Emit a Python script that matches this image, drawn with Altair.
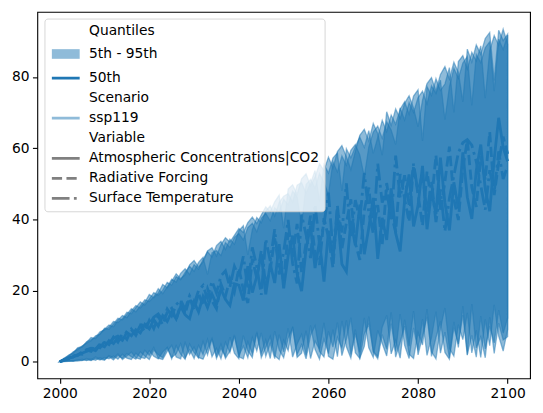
import altair as alt
import pandas as pd

years = list(range(2000, 2101))

variables = ["Atmospheric Concentrations|CO2", "Radiative Forcing", "Surface Temperature"]

atmos_p5 = [0.0, 0.05, 0.1, 0.3, 0.2, 0.4, 0.6, 0.3, 0.9, 0.5,
            1.2, 0.8, 1.6, 0.7, 2.1, 1.0, 0.6, 2.4, 1.3, 0.9,
            3.1, 1.5, 0.8, 2.7, 4.0, 1.2, 2.2, 5.1, 1.0, 3.4,
            0.9, 4.6, 2.0, 6.3, 1.4, 3.8, 0.8, 5.5, 2.6, 7.2,
            1.7, 4.4, 1.1, 6.8, 3.0, 8.1, 1.5, 5.2, 0.9, 7.6,
            2.8, 9.4, 1.3, 4.9, 7.7, 1.8, 10.2, 3.5, 0.7, 6.4,
            2.3, 9.0, 1.4, 11.5, 4.2, 1.0, 7.9, 2.6, 12.3, 3.9,
            1.2, 8.8, 5.1, 1.6, 10.7, 2.9, 13.4, 4.6, 0.9, 9.5,
            3.2, 12.0, 1.8, 6.7, 14.1, 2.4, 8.3, 1.1, 11.2, 4.0,
            15.6, 2.0, 7.4, 1.3, 12.8, 3.6, 9.9, 5.3, 14.5, 8.0,
            12.2]
atmos_p50 = [0.0, 0.4, 1.1, 1.3, 2.0, 2.4, 2.9, 3.6, 3.1, 4.7,
             4.2, 5.9, 5.1, 6.8, 6.0, 8.2, 7.3, 9.0, 8.1, 10.5,
             9.2, 11.8, 10.0, 12.9, 11.3, 14.1, 12.0, 15.5, 13.2, 12.1,
             16.8, 14.0, 18.3, 15.2, 19.0, 16.1, 20.4, 17.5, 15.8, 21.9,
             21.5, 17.2, 26.8, 19.4, 24.0, 30.2, 18.9, 27.5, 22.1, 33.0,
             20.6, 29.8, 35.4, 24.7, 19.8, 31.6, 38.2, 26.3, 33.9, 22.5,
             36.8, 29.0, 41.2, 27.4, 25.3, 39.5, 32.7, 44.1, 30.2, 37.6,
             46.0, 28.9, 40.4, 34.2, 48.7, 36.1, 31.0, 45.3, 52.6, 38.0,
             43.9, 55.0, 37.2, 47.8, 41.5, 57.3, 44.6, 36.9, 50.4, 43.0,
             58.8, 46.2, 40.1, 53.7, 61.0, 48.5, 42.3, 56.9, 68.5, 60.2,
             56.3]
atmos_p95 = [0.0, 0.8, 1.9, 2.5, 3.7, 4.1, 5.6, 6.2, 6.8, 8.4,
             8.9, 9.7, 11.3, 11.0, 12.1, 13.9, 13.5, 15.2, 16.8, 15.9,
             17.6, 19.4, 18.7, 20.1, 22.3, 21.5, 23.9, 23.0, 25.1, 26.8,
             25.4, 27.9, 29.3, 24.5, 30.6, 31.2, 29.8, 33.5, 32.1, 34.9,
             36.0, 34.2, 37.7, 38.9, 36.5, 40.3, 41.7, 39.6, 43.2, 42.0,
             45.6, 44.1, 47.9, 46.3, 38.0, 49.8, 51.2, 48.7, 52.9, 50.4,
             47.0, 56.1, 53.3, 57.8, 55.2, 59.4, 61.0, 58.1, 52.0, 60.3,
             64.5, 66.2, 62.8, 67.4, 65.1, 61.0, 71.3, 67.9, 72.8, 70.0,
             74.2, 76.0, 72.4, 77.5, 75.3, 79.1, 68.0, 77.2, 82.4, 79.6,
             83.9, 85.7, 72.0, 86.3, 84.0, 88.2, 89.9, 76.0, 90.6, 87.7,
             91.8]

rf_p5 = [0.0, 0.1, 0.2, 0.1, 0.4, 0.7, 0.3, 0.8, 0.4, 1.1,
         0.6, 1.4, 0.5, 1.8, 0.9, 2.3, 1.4, 0.7, 2.8, 1.6,
         0.6, 3.3, 2.0, 1.1, 3.9, 0.8, 4.5, 2.1, 0.7, 5.0,
         2.6, 1.0, 5.7, 1.9, 6.4, 0.9, 3.7, 1.5, 6.9, 2.4,
         0.8, 7.3, 3.1, 1.2, 8.0, 2.2, 6.1, 0.9, 8.6, 3.3,
         1.1, 6.6, 9.5, 2.0, 4.8, 0.8, 7.4, 10.1, 2.9, 1.3,
         8.5, 4.1, 11.0, 1.7, 6.3, 12.4, 2.5, 0.9, 7.8, 10.6,
         3.0, 1.4, 9.7, 13.0, 2.2, 6.0, 1.0, 11.8, 4.4, 14.2,
         1.9, 7.1, 12.6, 2.8, 0.8, 9.3, 15.1, 3.7, 1.6, 10.4,
         6.2, 13.7, 2.5, 8.8, 1.2, 11.9, 4.5, 16.0, 7.2, 3.0,
         9.1]
rf_p50 = [0.0, 0.5, 0.8, 1.6, 1.7, 2.8, 3.3, 2.9, 4.5, 3.9,
          5.6, 4.8, 6.9, 5.5, 7.8, 6.3, 9.1, 7.4, 10.2, 8.5,
          11.6, 9.3, 12.7, 10.4, 13.9, 15.0, 11.8, 16.2, 13.5, 17.9,
          14.6, 19.2, 15.7, 20.5, 17.1, 14.9, 21.8, 18.4, 23.2, 19.6,
          26.3, 20.1, 16.5, 28.9, 23.4, 31.2, 21.7, 25.8, 34.6, 27.0,
          22.8, 36.1, 29.5, 38.7, 25.1, 33.4, 41.0, 30.6, 27.2, 40.3,
          34.9, 26.4, 43.8, 31.7, 39.0, 45.6, 33.3, 28.6, 42.5, 48.9,
          37.1, 44.0, 32.8, 50.2, 41.6, 36.4, 52.7, 45.8, 39.3, 55.1,
          47.0, 38.2, 53.4, 44.9, 58.0, 42.1, 50.6, 60.4, 45.7, 39.8,
          54.2, 62.3, 49.0, 43.5, 57.7, 51.1, 64.5, 46.8, 55.9, 63.2,
          58.4]
rf_p95 = [0.0, 0.9, 1.5, 2.8, 3.3, 4.4, 5.2, 5.9, 7.3, 7.7,
          9.4, 9.1, 10.6, 12.2, 11.8, 13.3, 14.9, 14.0, 15.7, 17.4,
          16.9, 18.2, 20.5, 19.1, 21.0, 23.2, 22.4, 24.8, 26.1, 24.5,
          27.3, 26.0, 28.7, 30.9, 29.4, 32.6, 33.8, 31.5, 34.4, 33.0,
          36.8, 38.2, 30.0, 37.1, 40.5, 39.0, 42.3, 43.8, 40.9, 44.7,
          46.5, 47.2, 44.8, 49.6, 50.3, 47.4, 50.1, 53.7, 45.0, 55.4,
          53.0, 57.2, 58.6, 48.0, 59.8, 57.3, 60.4, 63.1, 60.2, 64.9,
          58.5, 63.0, 67.8, 64.6, 69.3, 66.7, 70.9, 73.0, 69.5, 74.6,
          76.4, 62.0, 77.3, 74.8, 79.5, 76.2, 78.0, 82.6, 70.0, 84.3,
          86.0, 82.2, 86.9, 84.5, 88.7, 74.0, 87.4, 91.6, 88.9, 93.4,
          89.2]

temp_p5 = [0.0, 0.08, 0.3, 0.2, 0.6, 0.3, 0.9, 0.5, 1.3, 0.7,
           0.4, 1.7, 1.0, 2.2, 0.6, 1.6, 2.7, 1.1, 0.7, 3.2,
           1.8, 4.0, 1.0, 0.6, 2.9, 4.6, 1.3, 0.8, 5.3, 2.0,
           4.1, 1.2, 0.7, 3.6, 6.5, 1.6, 4.9, 0.9, 3.0, 7.5,
           1.4, 0.8, 5.6, 2.3, 8.4, 1.1, 4.0, 7.1, 1.7, 0.6,
           6.0, 3.1, 9.8, 1.2, 2.4, 8.7, 0.9, 5.8, 3.4, 10.9,
           1.5, 0.7, 6.9, 3.8, 11.6, 2.0, 9.0, 1.0, 4.3, 12.7,
           2.7, 0.8, 7.6, 3.5, 13.9, 1.3, 5.5, 10.0, 2.1, 0.9,
           8.2, 4.7, 14.8, 1.5, 6.8, 11.3, 2.6, 0.7, 9.6, 5.0,
           13.1, 1.8, 16.2, 3.9, 7.0, 1.1, 12.5, 2.3, 10.8, 6.1,
           7.0]
temp_p50 = [0.0, 0.6, 0.9, 1.4, 2.3, 2.1, 3.4, 3.8, 3.5, 5.0,
            5.4, 4.9, 6.6, 7.2, 6.4, 8.5, 9.0, 8.0, 9.9, 11.1,
            10.3, 12.5, 13.4, 11.6, 14.8, 12.9, 16.0, 17.3, 14.7, 18.5,
            16.2, 20.0, 21.4, 17.8, 22.6, 19.3, 24.1, 25.5, 21.0, 26.8,
            23.9, 29.6, 20.4, 32.1, 26.7, 18.8, 34.5, 28.3, 37.2, 24.5,
            30.9, 39.8, 27.6, 22.0, 41.3, 35.7, 29.1, 44.2, 33.0, 38.6,
            47.5, 31.2, 42.9, 36.3, 50.1, 34.7, 45.4, 39.9, 53.0, 41.8,
            36.0, 55.6, 44.7, 48.3, 39.5, 57.9, 46.1, 52.4, 44.1, 55.6,
            47.5, 53.0, 41.8, 50.7, 39.2, 48.4, 36.6, 45.9, 52.3, 58.7,
            61.5, 62.4, 60.8, 56.2, 49.5, 42.7, 53.8, 47.6, 59.1, 51.3,
            55.0]
temp_p95 = [0.0, 1.0, 1.7, 2.4, 3.9, 4.3, 5.4, 6.8, 6.5, 7.9,
            9.1, 10.3, 9.8, 11.7, 13.0, 12.4, 14.3, 15.8, 15.1, 16.6,
            18.9, 18.0, 19.3, 21.7, 20.8, 22.6, 24.7, 23.3, 24.4, 27.2,
            28.4, 26.6, 28.0, 31.1, 32.0, 29.7, 32.9, 34.8, 33.6, 35.5,
            37.4, 36.3, 39.1, 40.6, 38.8, 41.2, 43.5, 42.1, 44.9, 46.8,
            37.5, 48.5, 49.7, 47.0, 51.4, 52.8, 49.3, 51.9, 55.6, 53.7,
            57.5, 54.4, 59.0, 60.7, 57.6, 54.0, 59.1, 63.6, 65.3, 62.0,
            66.9, 64.1, 58.0, 70.2, 66.4, 71.0, 68.3, 72.6, 74.7, 71.2,
            66.0, 73.5, 78.1, 79.8, 76.0, 80.7, 82.9, 79.4, 84.1, 81.3,
            73.0, 87.8, 84.2, 89.0, 86.4, 90.8, 92.5, 79.0, 93.1, 90.2,
            92.0]

x_ticks = [2000, 2020, 2040, 2060, 2080, 2100]
y_ticks = [0, 20, 40, 60, 80]

legend_labels = ["Quantiles", "5th - 95th", "50th", "Scenario", "ssp119",
                 "Variable", "Atmospheric Concentrations|CO2", "Radiative Forcing",
                 "Surface Temperature"]

# legend styles
BLUE = "#1f77b4"
BLUE_HALF = "rgba(31,119,180,0.5)"
GRAY = "#808080"
NONE = "transparent"
LINE = "M-4.667,0H4.667"
RECT = "M-4.667,-1.617H4.667V1.617H-4.667Z"
DASH = [10.3, 4.4]
DASHDOT = [17.8, 4.4, 2.8, 4.4]
SOLID = [1, 0]
legend_fill = [NONE, BLUE_HALF, NONE, NONE, NONE, NONE, NONE, NONE, NONE]
legend_stroke = [NONE, NONE, BLUE, NONE, BLUE_HALF, NONE, GRAY, GRAY, GRAY]
legend_shapes = [LINE, RECT, LINE, LINE, LINE, LINE, LINE, LINE, LINE]
legend_dashes = [SOLID, SOLID, SOLID, SOLID, SOLID, SOLID, SOLID, DASH, DASHDOT]
line_dashes = {variables[0]: SOLID, variables[1]: DASH, variables[2]: DASHDOT}

rows = []
for var, p5s, p50s, p95s in [
    (variables[0], atmos_p5, atmos_p50, atmos_p95),
    (variables[1], rf_p5, rf_p50, rf_p95),
    (variables[2], temp_p5, temp_p50, temp_p95),
]:
    for yr, a, b, c in zip(years, p5s, p50s, p95s):
        rows.append({"year": yr, "variable": var, "p5": a, "p50": b, "p95": c})
df = pd.DataFrame(rows)

legend_df = pd.DataFrame({"key": legend_labels, "year": [None] * 9, "p5": [None] * 9})

FONT = "DejaVu Sans"

xscale = alt.Scale(domain=[1995, 2105], nice=False, zero=False)
yscale = alt.Scale(domain=[-4.68, 98.28], nice=False, zero=False)
xaxis = alt.Axis(values=x_ticks, format="d", title=None)
yaxis = alt.Axis(values=y_ticks, format="d", title=None)

bands = alt.Chart(df).mark_area(
    fill=BLUE, fillOpacity=0.5, stroke=BLUE, strokeOpacity=0.5, strokeWidth=1.3
).encode(
    x=alt.X("year:Q", scale=xscale, axis=xaxis),
    y=alt.Y("p5:Q", scale=yscale, axis=yaxis),
    y2="p95:Q",
    detail="variable:N",
)

lines = []
for var in variables:
    lines.append(
        alt.Chart(df).transform_filter(alt.datum.variable == var).mark_line(
            color=BLUE, strokeWidth=2.8
        ).encode(
            x=alt.X("year:Q", scale=xscale, axis=xaxis),
            y=alt.Y("p50:Q", scale=yscale, axis=yaxis),
            strokeDash=alt.value(line_dashes[var]),
        )
    )

leg = alt.Legend(title=None)
legend_layer = alt.Chart(legend_df).mark_point(opacity=1, filled=False).encode(
    x=alt.X("year:Q", scale=xscale, axis=xaxis),
    y=alt.Y("p5:Q", scale=yscale, axis=yaxis),
    fill=alt.Fill("key:N", scale=alt.Scale(domain=legend_labels, range=legend_fill), legend=leg),
    stroke=alt.Stroke("key:N", scale=alt.Scale(domain=legend_labels, range=legend_stroke), legend=leg),
    shape=alt.Shape("key:N", scale=alt.Scale(domain=legend_labels, range=legend_shapes), legend=leg),
    strokeDash=alt.StrokeDash("key:N", scale=alt.Scale(domain=legend_labels, range=legend_dashes), legend=leg),
)

chart = alt.layer(bands, *lines, legend_layer).properties(
    width=496,
    height=369,
    autosize=alt.AutoSizeParams(type="none"),
    padding={"left": 29.5, "top": 2.5, "right": 5, "bottom": 30},
).configure_view(
    stroke="black", strokeWidth=1.1
).configure_axis(
    grid=False, domain=False, labelFont=FONT, labelFontSize=13.9, labelColor="black",
    tickColor="black", tickSize=4.9, tickWidth=1.1, labelPadding=3.5,
).configure_legend(
    orient="none", legendX=7.2, legendY=6.8,
    fillColor="rgba(255,255,255,0.8)", strokeColor="rgba(204,204,204,0.8)",
    cornerRadius=3, padding=5.5, rowPadding=5.2, symbolSize=36, symbolStrokeWidth=2.8,
    symbolOffset=9, labelOffset=16.5,
    labelFont=FONT, labelFontSize=13.9, labelColor="black", labelLimit=600,
)

chart.save("out.html", embed_options={"renderer": "svg", "actions": False})
